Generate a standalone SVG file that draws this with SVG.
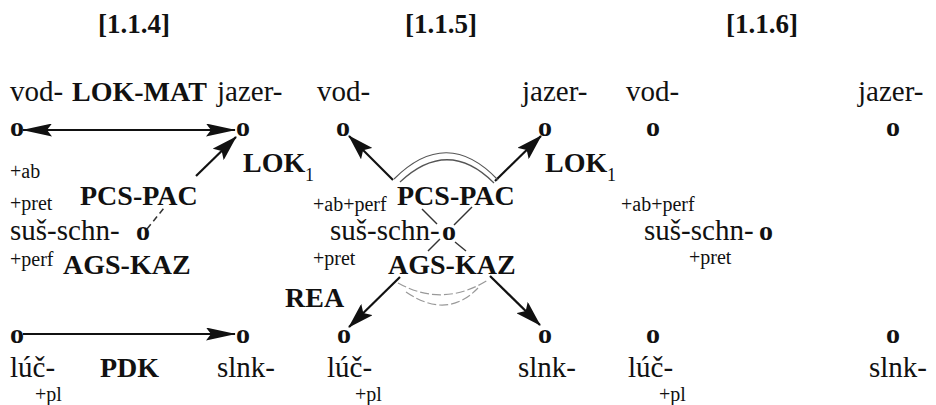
<svg xmlns="http://www.w3.org/2000/svg" width="936" height="405" viewBox="0 0 936 405">
<style>
text{font-family:"Liberation Serif","Times New Roman",serif;fill:#111}
.t{font-size:29px}
.b{font-size:28px;font-weight:bold}
.o{font-size:28px;font-weight:bold}
.s{font-size:20px}
.sub{font-size:18px}
.h{font-size:27px;font-weight:bold}
.ln{stroke:#111;stroke-width:2.2;fill:none}
.dash{stroke:#333;stroke-width:1.5;fill:none;stroke-dasharray:6 4}
.thin{stroke:#333;stroke-width:1.4;fill:none}
.arc{stroke:#555;stroke-width:1.2;fill:none}
.arcl{stroke:#999;stroke-width:1.2;fill:none;stroke-dasharray:9 3}
</style>
<defs>
<marker id="ah" viewBox="0 0 30 13" refX="29" refY="6.5" markerWidth="30" markerHeight="13" markerUnits="userSpaceOnUse" orient="auto-start-reverse"><path d="M0,0 L30,6.5 L0,13 L5,6.5 z" fill="#111"/></marker>
<marker id="ad" viewBox="0 0 26 16" refX="25" refY="8" markerWidth="26" markerHeight="16" markerUnits="userSpaceOnUse" orient="auto"><path d="M0,0 L26,8 L0,16 L5,8 z" fill="#111"/></marker>
</defs>
<rect width="936" height="405" fill="#fff"/>
<g id="headers">
<text class="h" x="98" y="33">[1.1.4]</text>
<text class="h" x="405" y="33">[1.1.5]</text>
<text class="h" x="726" y="33">[1.1.6]</text>
</g>
<g id="connectors">
<line class="ln" x1="23" y1="130" x2="235" y2="130" marker-start="url(#ah)" marker-end="url(#ah)"/>
<line class="dash" x1="147" y1="229" x2="164" y2="208"/>
<line class="ln" x1="196" y1="176" x2="236" y2="137" marker-end="url(#ad)"/>
<line class="ln" x1="23" y1="334" x2="235" y2="334" marker-end="url(#ah)"/>
<line class="ln" x1="393" y1="180" x2="349" y2="136" marker-end="url(#ad)"/>
<line class="ln" x1="495" y1="181" x2="541" y2="136" marker-end="url(#ad)"/>
<line class="ln" x1="400" y1="277" x2="349" y2="327" marker-end="url(#ad)"/>
<line class="ln" x1="490" y1="276" x2="540" y2="325" marker-end="url(#ad)"/>
<path class="arc" d="M394,179 Q447,126 498,180"/>
<path class="arc" d="M400,182 Q448,137 494,183"/>
<path class="arcl" d="M398,283 Q443,308 488,280"/>
<path class="arcl" d="M406,292 Q447,320 478,288"/>
<line class="thin" x1="422" y1="209" x2="437" y2="224"/>
<line class="thin" x1="455" y1="242" x2="466" y2="251"/>
<line class="thin" x1="472" y1="207" x2="454" y2="225"/>
<line class="thin" x1="440" y1="239" x2="428" y2="251"/>
</g>
<g id="labels">
<text class="b" x="72" y="101">LOK-MAT</text>
<text class="b" x="243" y="172">LOK</text><text class="sub" x="305" y="181">1</text>
<text class="b" x="80" y="205">PCS-PAC</text>
<text class="b" x="63" y="274">AGS-KAZ</text>
<text class="b" x="100" y="377">PDK</text>
<text class="b" x="545" y="172">LOK</text><text class="sub" x="607" y="181">1</text>
<text class="b" x="397" y="205">PCS-PAC</text>
<text class="b" x="388" y="274">AGS-KAZ</text>
<text class="b" x="285" y="307">REA</text>
</g>
<g id="p1-vod"><text class="t" x="10" y="101">vod-</text><text class="o" x="10" y="136">o</text></g>
<g id="p1-jazer"><text class="t" x="217" y="101">jazer-</text><text class="o" x="236" y="136">o</text></g>
<g id="p1-sus"><text class="s" x="10" y="178">+ab</text><text class="s" x="10" y="210">+pret</text><text class="t" x="10" y="240">suš-schn-</text><text class="o" x="136" y="240">o</text><text class="s" x="10" y="266">+perf</text></g>
<g id="p1-luc"><text class="o" x="10" y="343">o</text><text class="t" x="10" y="377">lúč-</text><text class="s" x="35" y="401">+pl</text></g>
<g id="p1-slnk"><text class="o" x="236" y="343">o</text><text class="t" x="217" y="377">slnk-</text></g>
<g id="p2-vod"><text class="t" x="317" y="101">vod-</text><text class="o" x="336" y="136">o</text></g>
<g id="p2-jazer"><text class="t" x="522" y="101">jazer-</text><text class="o" x="538" y="136">o</text></g>
<g id="p2-sus"><text class="s" x="313" y="211">+ab+perf</text><text class="t" x="330" y="240">suš-schn-</text><text class="o" x="442" y="240">o</text><text class="s" x="313" y="265">+pret</text></g>
<g id="p2-luc"><text class="o" x="337" y="343">o</text><text class="t" x="327" y="377">lúč-</text><text class="s" x="355" y="401">+pl</text></g>
<g id="p2-slnk"><text class="o" x="538" y="343">o</text><text class="t" x="518" y="377">slnk-</text></g>
<g id="p3-vod"><text class="t" x="626" y="101">vod-</text><text class="o" x="646" y="136">o</text></g>
<g id="p3-jazer"><text class="t" x="858" y="101">jazer-</text><text class="o" x="886" y="136">o</text></g>
<g id="p3-sus"><text class="s" x="621" y="211">+ab+perf</text><text class="t" x="644" y="240">suš-schn-</text><text class="o" x="759" y="240">o</text><text class="s" x="689" y="264">+pret</text></g>
<g id="p3-luc"><text class="o" x="646" y="343">o</text><text class="t" x="628" y="377">lúč-</text><text class="s" x="659" y="401">+pl</text></g>
<g id="p3-slnk"><text class="o" x="886" y="343">o</text><text class="t" x="869" y="377">slnk-</text></g>
</svg>
